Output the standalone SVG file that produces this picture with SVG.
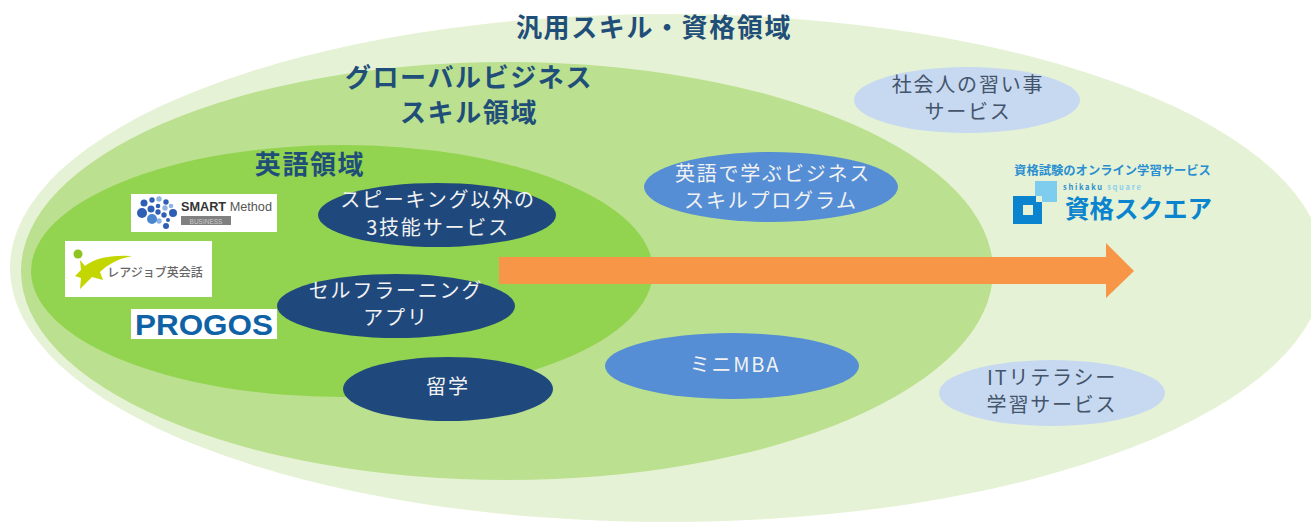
<svg xmlns="http://www.w3.org/2000/svg" width="1311" height="522" viewBox="0 0 1311 522">
<style>
text{font-family:"Noto Sans CJK JP","Noto Sans",sans-serif;text-anchor:middle}
.h{font-weight:700;fill:#1f4e79;font-size:26px;letter-spacing:1.600px}
.w{fill:#f2f2f2;font-size:20px;letter-spacing:1.800px}
.g{fill:#44546a;font-size:20px;letter-spacing:1.800px}
.dk{fill:#1f497d}.md{fill:#558ed5}.lt{fill:#c6d9f1}
.logo{fill:#fff}
</style>
<rect width="1311" height="522" fill="#fff"/>
<g id="area-general"><ellipse cx="667" cy="268" rx="657" ry="254" fill="#e6f2d5"/><text class="h" x="654" y="37">汎用スキル・資格領域</text></g>
<g id="area-global"><ellipse cx="507" cy="271" rx="486" ry="209" fill="#bbe08f"/><text class="h" x="469" y="87">グローバルビジネス</text><text class="h" x="469" y="122">スキル領域</text></g>
<g id="area-english"><ellipse cx="342" cy="271" rx="311" ry="126" fill="#92d34f"/><text class="h" x="310" y="174">英語領域</text></g>
<g id="node-speaking"><ellipse class="dk" cx="437" cy="215" rx="119" ry="32"/><text class="w" x="438" y="207">スピーキング以外の</text><text class="w" x="438" y="235">3技能サービス</text></g>
<g id="node-selflearning"><ellipse class="dk" cx="396" cy="306" rx="119" ry="32"/><text class="w" x="396" y="298">セルフラーニング</text><text class="w" x="396" y="325">アプリ</text></g>
<g id="node-study-abroad"><ellipse class="dk" cx="448" cy="389" rx="105" ry="32"/><text class="w" x="448" y="394">留学</text></g>
<g id="node-business-program"><ellipse class="md" cx="771" cy="187" rx="127" ry="35"/><text class="w" x="773" y="181">英語で学ぶビジネス</text><text class="w" x="771" y="208">スキルプログラム</text></g>
<g id="node-mini-mba"><ellipse class="md" cx="732" cy="366" rx="127" ry="33"/><text class="w" x="735" y="372">ミニMBA</text></g>
<g id="node-lessons"><ellipse class="lt" cx="967" cy="100" rx="113" ry="33"/><text class="g" x="968" y="92">社会人の習い事</text><text class="g" x="968" y="119">サービス</text></g>
<g id="node-it"><ellipse class="lt" cx="1052" cy="393" rx="113" ry="33"/><text class="g" x="1052" y="385">ITリテラシー</text><text class="g" x="1052" y="412">学習サービス</text></g>
<g id="logo-smart">
<rect class="logo" x="131" y="194" width="146" height="38"/>
<g fill="#2f5fb5"><circle cx="142" cy="213" r="5"/><circle cx="144" cy="203" r="3.500"/><circle cx="152" cy="200" r="2.700"/><circle cx="166" cy="202" r="2.700"/><circle cx="173" cy="213" r="4"/><circle cx="158" cy="206" r="2.300"/><circle cx="151" cy="209" r="3.500"/><circle cx="158" cy="212" r="2.700"/><circle cx="164" cy="215" r="2.700"/><circle cx="168" cy="220" r="2"/><circle cx="166" cy="226" r="3"/></g>
<g fill="#8fb4e3"><circle cx="159" cy="199" r="2.700"/><circle cx="171" cy="206" r="2.300"/><circle cx="165" cy="208" r="2.700"/><circle cx="159" cy="221" r="2.700"/></g>
<circle cx="152" cy="219" r="5" fill="#4a86cf"/>
<text x="181" y="211" textLength="91" lengthAdjust="spacingAndGlyphs" style="font-family:'Liberation Sans',sans-serif;text-anchor:start;font-size:12.500px;font-weight:700;fill:#333">SMART <tspan font-weight="400" fill="#555">Method</tspan></text>
<rect x="181" y="216" width="50" height="9" fill="#808080"/>
<text x="206" y="223.500" style="font-family:'Liberation Sans',sans-serif;font-size:6.500px;fill:#ccc">BUSINESS</text>
</g>
<g id="logo-rarejob">
<rect class="logo" x="65" y="241" width="147" height="56"/>
<circle cx="78" cy="254" r="4.500" fill="#8fc31f"/>
<path d="M80 260L85 266Q100 254 132 256Q112 260 100 272L103 280 92 277 80 289 81 278 75 276 81 270Z" fill="#c3d600"/>
<text x="155" y="277" style="font-size:12px;font-weight:500;fill:#666">レアジョブ英会話</text>
</g>
<g id="logo-progos">
<rect class="logo" x="131" y="309" width="146" height="30"/>
<text x="204" y="335" style="font-family:'Liberation Sans',sans-serif;font-size:30px;font-weight:700;fill:#0f62a5" textLength="138" lengthAdjust="spacingAndGlyphs">PROGOS</text>
</g>
<g id="logo-shikaku">
<text x="1112.500" y="175" style="font-size:12.300px;font-weight:700;fill:#2a8fd0">資格試験のオンライン学習サービス</text>
<rect x="1035" y="181" width="22" height="21" fill="#7fcdee"/>
<rect x="1013" y="196" width="29" height="28" fill="#0a84cf"/>
<rect x="1023" y="205" width="10" height="10" fill="#e6f2d5"/>
<rect x="1036" y="196" width="6" height="6" fill="#e6f2d5"/>
<text x="1063" y="190" style="text-anchor:start;font-size:7.500px;font-weight:700;letter-spacing:1.700px;fill:#2a8fd0">shikaku <tspan fill="#8ed0ee">square</tspan></text>
<text x="1138.500" y="218" style="font-size:24.500px;font-weight:700;fill:#0a84cf">資格スクエア</text>
</g>
<g id="connectors">
<path d="M499 257H1106V243L1134 271 1106 298V284H499Z" fill="#f79646"/>
</g>
</svg>
